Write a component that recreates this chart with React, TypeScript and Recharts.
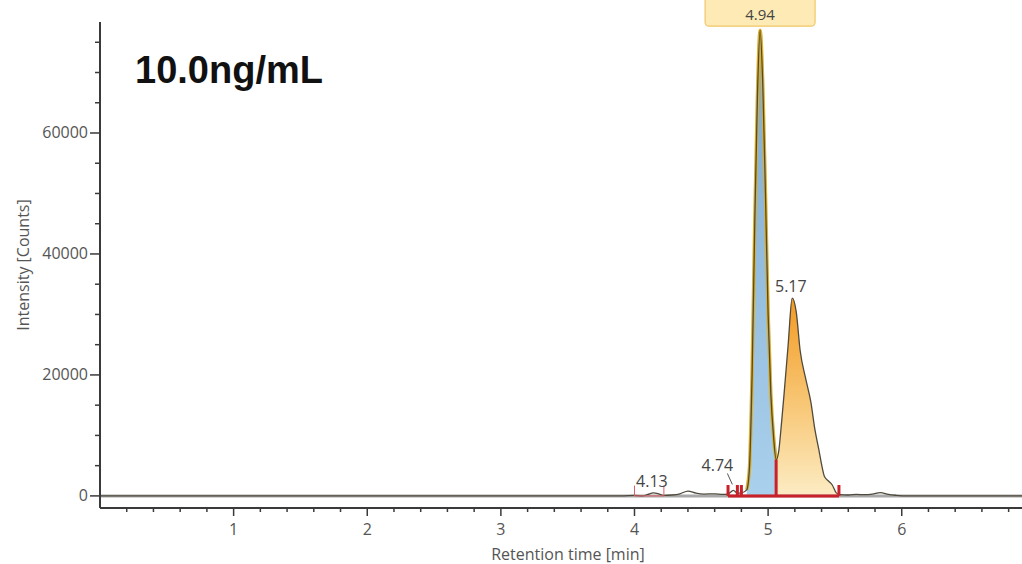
import { ComposedChart, Line, Area, XAxis, YAxis, ReferenceLine, ReferenceDot } from "recharts";

// chromatogram trace
const retentionTime = [
  0, 1, 2, 3, 3.9, 4.0, 4.06, 4.1, 4.14, 4.18, 4.22, 4.28, 4.34, 4.4, 4.46, 4.52, 4.6, 4.66, 4.7, 4.74,
  4.77, 4.8, 4.84, 4.86, 4.88, 4.9, 4.92, 4.94, 4.96, 4.98, 5.0, 5.02, 5.04, 5.06, 5.08, 5.1, 5.12, 5.15,
  5.18, 5.21, 5.24, 5.28, 5.32, 5.35, 5.38, 5.4, 5.42, 5.45, 5.48, 5.51, 5.54, 5.6, 5.66, 5.72, 5.78, 5.84,
  5.9, 5.96, 6.04, 6.3, 6.6, 6.9,
];
const intensity = [
  0, 0, 0, 0, 0, 80, 0, 250, 500, 350, 80, 150, 350, 800, 450, 300, 350, 250, 350, 900,
  450, 500, 1000, 4500, 20000, 45000, 66000, 77000, 68000, 50000, 30000, 17000, 10000, 6000, 7500, 12000, 17000, 25000,
  32700, 30500, 24000, 19500, 15500, 11000, 7600, 5200, 3300, 2500, 1800, 500, 200, 150, 250, 200, 300, 550,
  250, 100, 0, 0, 0, 0,
];

// integrated peak windows [start, end]
const mainPeakWindow = [4.84, 5.06];
const secondPeakWindow = [5.06, 5.54];

const peakTimes = [4.13, 4.74, 4.94, 5.17];
const peakHeights = [500, 900, 77000, 32700];
const peakLabels = ["4.13", "4.74", "4.94", "5.17"];

// integration markers (red)
const markTimes = [4.7, 4.77, 4.8, 5.06, 5.53];
const markHeights = [1800, 1800, 1800, 6000, 1800];
const smallMarkTimes = [4.0, 4.22];
const smallMarkHeights = [1700, 1700];

const xTicks = [
  0.2, 0.4, 0.6, 0.8, 1, 1.2, 1.4, 1.6, 1.8, 2, 2.2, 2.4, 2.6, 2.8, 3, 3.2, 3.4, 3.6, 3.8,
  4, 4.2, 4.4, 4.6, 4.8, 5, 5.2, 5.4, 5.6, 5.8, 6, 6.2, 6.4, 6.6, 6.8,
];
const xLabels = [1, 2, 3, 4, 5, 6];
const yTicks = [
  0, 5000, 10000, 15000, 20000, 25000, 30000, 35000, 40000, 45000, 50000, 55000, 60000, 65000, 70000, 75000,
];
const yLabels = [0, 20000, 40000, 60000];

const inWindow = (t: number, w: number[]) => t >= w[0] - 1e-9 && t <= w[1] + 1e-9;

const data = retentionTime.map((t, i) => ({
  t,
  y: intensity[i],
  a: inWindow(t, mainPeakWindow) ? intensity[i] : null,
  b: inWindow(t, secondPeakWindow) ? intensity[i] : null,
}));

const FONT = "'Open Sans', 'DejaVu Sans', sans-serif";
const AXIS = "#3a3a3a";
const TEXT = "#555";
const RED = "#c9202a";

const XTick = (props: any) => {
  const { x, y, payload } = props;
  const major = xLabels.includes(payload.value);
  return (
    <g>
      <line x1={x} x2={x} y1={y} y2={y + (major ? 8 : 4)} stroke={AXIS} strokeWidth={1.5} />
      {major && (
        <text x={x} y={y + 27} textAnchor="middle" fontFamily={FONT} fontSize={16} fill={TEXT}>
          {payload.value}
        </text>
      )}
    </g>
  );
};

const YTick = (props: any) => {
  const { x, y, payload } = props;
  const major = yLabels.includes(payload.value);
  return (
    <g>
      <line x1={x} x2={x - (major ? 10 : 5)} y1={y} y2={y} stroke={AXIS} strokeWidth={1.5} />
      {major && (
        <text x={x - 12} y={y + 5.5} textAnchor="end" fontFamily={FONT} fontSize={16} fill={TEXT}>
          {payload.value}
        </text>
      )}
    </g>
  );
};

const peakShape = (i: number) => (p: any) => {
  const { cx, cy } = p;
  const label = peakLabels[i];
  if (label === "4.94") {
    return (
      <g>
        <rect x={cx - 55} y={cy - 58} width={110} height={54} rx={4} fill="#fdeab5" stroke="#f0c767" strokeWidth={1.2} />
        <text x={cx} y={cy - 10} textAnchor="middle" fontFamily={FONT} fontSize={15} fill="#444">
          {label}
        </text>
      </g>
    );
  }
  if (label === "4.74") {
    return (
      <g>
        <line x1={cx - 6} y1={cy - 17} x2={cx - 1} y2={cy - 6} stroke="#555" strokeWidth={1} />
        <text x={cx - 16} y={cy - 19} textAnchor="middle" fontFamily={FONT} fontSize={16} fill="#444">
          {label}
        </text>
      </g>
    );
  }
  return (
    <text x={cx} y={cy - 6} textAnchor="middle" fontFamily={FONT} fontSize={16} fill="#444">
      {label}
    </text>
  );
};

export default function App() {
  return (
    <div style={{ position: "absolute", left: 0, top: 0, width: 1022, height: 564, background: "#fff" }}>
      <ComposedChart width={1022} height={564} data={data} margin={{ top: 22, right: 0, bottom: 16, left: 0 }}>
        <defs>
          <linearGradient id="mainFill" x1="0" y1="0" x2="0" y2="1">
            <stop offset="0%" stopColor="#7fa8cc" />
            <stop offset="100%" stopColor="#a9d0ec" />
          </linearGradient>
          <linearGradient id="secondFill" x1="0" y1="0" x2="0" y2="1">
            <stop offset="0%" stopColor="#f39a22" />
            <stop offset="55%" stopColor="#f8c878" />
            <stop offset="100%" stopColor="#fcecc4" />
          </linearGradient>
        </defs>
        <XAxis
          dataKey="t"
          type="number"
          domain={[0, 6.9]}
          allowDataOverflow
          ticks={xTicks}
          interval={0}
          tick={<XTick />}
          tickLine={false}
          tickSize={0}
          tickMargin={0}
          height={40}
          axisLine={{ stroke: AXIS, strokeWidth: 2 }}
          label={{
            value: "Retention time [min]",
            position: "bottom",
            offset: 1,
            dx: 7,
            fontFamily: FONT,
            fontSize: 16,
            fill: TEXT,
          }}
        />
        <YAxis
          type="number"
          domain={[-2000, 78350]}
          allowDataOverflow
          ticks={yTicks}
          interval={0}
          tick={<YTick />}
          tickLine={false}
          tickSize={0}
          tickMargin={0}
          width={100}
          axisLine={{ stroke: AXIS, strokeWidth: 2 }}
          label={{
            value: "Intensity [Counts]",
            angle: -90,
            position: "insideLeft",
            offset: 23,
            style: { textAnchor: "middle" },
            fontFamily: FONT,
            fontSize: 16,
            fill: TEXT,
          }}
        />
        <ReferenceLine y={0} stroke="#a8a8a8" strokeWidth={3} />
        <Area
          dataKey="b"
          type="monotone"
          baseValue={0}
          fill="url(#secondFill)"
          fillOpacity={1}
          stroke="none"
          isAnimationActive={false}
        />
        <Area
          dataKey="a"
          type="monotone"
          baseValue={0}
          fill="url(#mainFill)"
          fillOpacity={1}
          stroke="#dcb02c"
          strokeWidth={3.5}
          isAnimationActive={false}
        />
        <Line dataKey="y" type="monotone" stroke="#4e4a3c" strokeWidth={1.3} dot={false} isAnimationActive={false} />
        <ReferenceLine
          segment={[
            { x: smallMarkTimes[0], y: 0 },
            { x: smallMarkTimes[1], y: 0 },
          ]}
          stroke="#e06068"
          strokeWidth={1}
        />
        {smallMarkTimes.map((t, i) => (
          <ReferenceLine
            key={"s" + i}
            segment={[
              { x: t, y: 0 },
              { x: t, y: smallMarkHeights[i] },
            ]}
            stroke="#e06068"
            strokeWidth={1}
          />
        ))}
        <ReferenceLine
          segment={[
            { x: markTimes[0], y: 0 },
            { x: markTimes[markTimes.length - 1], y: 0 },
          ]}
          stroke={RED}
          strokeWidth={3}
        />
        {markTimes.map((t, i) => (
          <ReferenceLine
            key={"m" + i}
            segment={[
              { x: t, y: 0 },
              { x: t, y: markHeights[i] },
            ]}
            stroke={RED}
            strokeWidth={3}
          />
        ))}
        {peakTimes.map((t, i) => (
          <ReferenceDot key={"p" + i} x={t} y={peakHeights[i]} r={2} shape={peakShape(i)} />
        ))}
      </ComposedChart>
      <div
        style={{
          position: "absolute",
          left: 135,
          top: 51,
          fontFamily: "'Liberation Sans', Arial, sans-serif",
          fontWeight: "bold",
          fontSize: 38,
          lineHeight: 1,
          color: "#111",
          whiteSpace: "nowrap",
        }}
      >
        10.0ng/mL
      </div>
    </div>
  );
}
